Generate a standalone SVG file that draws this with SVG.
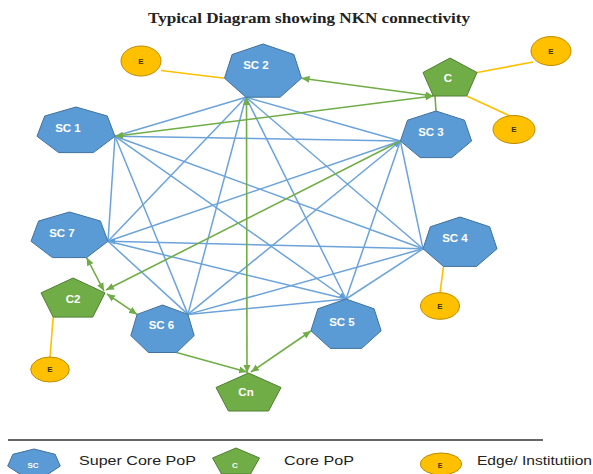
<svg xmlns="http://www.w3.org/2000/svg" width="593" height="474" viewBox="0 0 593 474">
<style>
.sc{fill:#5B9BD5;stroke:#41719C;stroke-width:1}
.c{fill:#70AD47;stroke:#507E32;stroke-width:1}
.e{fill:#FFC000;stroke:#BC8C00;stroke-width:1}
.lbl{font-family:"Liberation Sans",Arial,sans-serif;font-weight:bold;font-size:11.5px;fill:#ffffff;text-anchor:middle;dominant-baseline:central}
.elbl{font-family:"Liberation Sans",Arial,sans-serif;font-weight:bold;font-size:8px;fill:#3a3000;text-anchor:middle;dominant-baseline:central}
.blue{stroke:#6BA3DA;stroke-width:1.5;fill:none}
.green{stroke:#70AD47;stroke-width:1.6;fill:none}
.yel{stroke:#FFC000;stroke-width:1.6;fill:none}
.leg{font-family:"Liberation Sans",Arial,sans-serif;font-size:13px;fill:#222222}
</style>
<defs>
<marker id="ga" markerUnits="userSpaceOnUse" markerWidth="9" markerHeight="8" refX="8" refY="4" orient="auto-start-reverse"><path d="M0,0.5 L8,4 L0,7.5 z" fill="#70AD47"/></marker>
<marker id="ba" markerUnits="userSpaceOnUse" markerWidth="8" markerHeight="7" refX="7" refY="3.5" orient="auto"><path d="M0,0.5 L7,3.5 L0,6.5 z" fill="#5B9BD5"/></marker>
</defs>
<text x="148" y="23" textLength="322" lengthAdjust="spacingAndGlyphs" style="font-family:'Liberation Serif','Times New Roman',serif;font-weight:bold;font-size:14px;fill:#222">Typical Diagram showing NKN connectivity</text>
<g id="connectors">
<line class="blue" x1="115" y1="136.3" x2="245.9" y2="97.2"/>
<line class="blue" x1="115" y1="136.3" x2="400.4" y2="141"/>
<line class="blue" x1="115" y1="136.3" x2="423" y2="248.8"/>
<line class="blue" x1="115" y1="136.3" x2="346" y2="299" marker-end="url(#ba)"/>
<line class="blue" x1="115" y1="136.3" x2="187.9" y2="314.4"/>
<line class="blue" x1="115" y1="136.3" x2="108" y2="241.3"/>
<line class="blue" x1="245.9" y1="97.2" x2="400.4" y2="141"/>
<line class="blue" x1="245.9" y1="97.2" x2="423" y2="248.8"/>
<line class="blue" x1="245.9" y1="97.2" x2="346" y2="299"/>
<line class="blue" x1="245.9" y1="97.2" x2="187.9" y2="314.4"/>
<line class="blue" x1="245.9" y1="97.2" x2="108" y2="241.3"/>
<line class="blue" x1="423" y1="248.8" x2="400.4" y2="141"/>
<line class="blue" x1="346" y1="299" x2="400.4" y2="141"/>
<line class="blue" x1="187.9" y1="314.4" x2="400.4" y2="141" marker-end="url(#ba)"/>
<line class="blue" x1="108" y1="241.3" x2="400.4" y2="141"/>
<line class="blue" x1="423" y1="248.8" x2="346" y2="299"/>
<line class="blue" x1="423" y1="248.8" x2="187.9" y2="314.4"/>
<line class="blue" x1="423" y1="248.8" x2="108" y2="241.3" marker-end="url(#ba)"/>
<line class="blue" x1="346" y1="299" x2="187.9" y2="314.4"/>
<line class="blue" x1="346" y1="299" x2="108" y2="241.3"/>
<line class="blue" x1="187.9" y1="314.4" x2="108" y2="241.3"/>
<line class="green" x1="301.5" y1="78.2" x2="433.3" y2="96" marker-start="url(#ga)" marker-end="url(#ga)"/>
<line class="green" x1="115" y1="136.3" x2="433.3" y2="96" marker-start="url(#ga)" marker-end="url(#ga)"/>
<line class="green" x1="435" y1="96" x2="436" y2="111"/>
<line class="green" x1="400.4" y1="141" x2="106" y2="290" marker-end="url(#ga)"/>
<line class="green" x1="86.6" y1="257.6" x2="104" y2="291" marker-start="url(#ga)" marker-end="url(#ga)"/>
<line class="green" x1="107" y1="294" x2="137.1" y2="314.4" marker-start="url(#ga)" marker-end="url(#ga)"/>
<line class="green" x1="246.5" y1="97.2" x2="247" y2="373" marker-start="url(#ga)" marker-end="url(#ga)"/>
<line class="green" x1="176.6" y1="352.5" x2="247" y2="372" marker-end="url(#ga)"/>
<line class="green" x1="251" y1="372" x2="310.9" y2="331" marker-start="url(#ga)" marker-end="url(#ga)"/>
<line class="yel" x1="161" y1="70.5" x2="224.5" y2="78.2"/>
<line class="yel" x1="477" y1="72.5" x2="533" y2="62"/>
<line class="yel" x1="466.7" y1="96" x2="510" y2="116"/>
<line class="yel" x1="443.5" y1="266.4" x2="440" y2="293"/>
<line class="yel" x1="53.2" y1="317.1" x2="50" y2="357"/>
</g>
<g id="sc1"><polygon class="sc" points="76,107 107.3,116 115,136.3 93.4,152.6 58.6,152.6 37,136.3 44.7,116"/><text class="lbl" x="68" y="128">SC 1</text></g>
<g id="sc2"><polygon class="sc" points="263,44 293.9,54.5 301.5,78.2 280.1,97.2 245.9,97.2 224.5,78.2 232.1,54.5"/><text class="lbl" x="256" y="65">SC 2</text></g>
<g id="sc3"><polygon class="sc" points="436,111 464.5,120.2 471.6,141 451.8,157.6 420.2,157.6 400.4,141 407.5,120.2"/><text class="lbl" x="431" y="132">SC 3</text></g>
<g id="sc4"><polygon class="sc" points="460,217 489.7,226.8 497,248.8 476.5,266.4 443.5,266.4 423,248.8 430.3,226.8"/><text class="lbl" x="455" y="238">SC 4</text></g>
<g id="sc5"><polygon class="sc" points="346,299 374.1,308.8 381.1,330.8 361.6,348.4 330.4,348.4 310.9,330.8 317.9,308.8"/><text class="lbl" x="342" y="322">SC 5</text></g>
<g id="sc6"><polygon class="sc" points="162.5,305 187.9,314.4 194.2,335.6 176.6,352.5 148.4,352.5 130.8,335.6 137.1,314.4"/><text class="lbl" x="161.5" y="325">SC 6</text></g>
<g id="sc7"><polygon class="sc" points="69.5,212 100.4,221 108,241.3 86.6,257.6 52.4,257.6 31,241.3 38.6,221"/><text class="lbl" x="62" y="233">SC 7</text></g>
<g id="c"><polygon class="c" points="450,58 477,72.5 466.7,96 433.3,96 423,72.5"/><text class="lbl" x="448" y="78">C</text></g>
<g id="c2"><polygon class="c" points="73,278 105,292.9 92.8,317.1 53.2,317.1 41,292.9"/><text class="lbl" x="73" y="298.5">C2</text></g>
<g id="cn"><polygon class="c" points="248.5,373 281,387.5 268.6,411 228.4,411 216,387.5"/><text class="lbl" x="246" y="392">Cn</text></g>
<g id="e1"><ellipse class="e" cx="141" cy="61" rx="20" ry="15"/><text class="elbl" x="141" y="61">E</text></g>
<g id="e2"><ellipse class="e" cx="551" cy="51" rx="20" ry="14.5"/><text class="elbl" x="551" y="51">E</text></g>
<g id="e3"><ellipse class="e" cx="514" cy="129.5" rx="21" ry="14"/><text class="elbl" x="514" y="129.5">E</text></g>
<g id="e4"><ellipse class="e" cx="440" cy="306" rx="19.5" ry="13.3"/><text class="elbl" x="440" y="306">E</text></g>
<g id="e5"><ellipse class="e" cx="50" cy="369.5" rx="19.3" ry="12.5"/><text class="elbl" x="50" y="369.5">E</text></g>
<g id="legend">
<line x1="8" y1="440" x2="543" y2="440" stroke="#333333" stroke-width="1.5"/>
<polygon class="sc" points="34,449 55.1,454.3 60.3,466.1 45.7,475.6 22.3,475.6 7.7,466.1 12.9,454.3"/>
<text class="lbl" x="33" y="465" style="font-size:8px">SC</text>
<text class="leg" x="79" y="465" textLength="117" lengthAdjust="spacingAndGlyphs">Super Core PoP</text>
<polygon class="c" points="236,448 259.5,458 250.5,474 221.5,474 212.5,458"/>
<text class="lbl" x="235" y="465" style="font-size:8px">C</text>
<text class="leg" x="284" y="465" textLength="70" lengthAdjust="spacingAndGlyphs">Core PoP</text>
<ellipse class="e" cx="441" cy="464" rx="20.5" ry="11"/>
<text class="elbl" x="440" y="465" style="font-size:7px">E</text>
<text class="leg" x="477" y="465" textLength="115" lengthAdjust="spacingAndGlyphs">Edge/ Institutiion</text>
</g>
</svg>
